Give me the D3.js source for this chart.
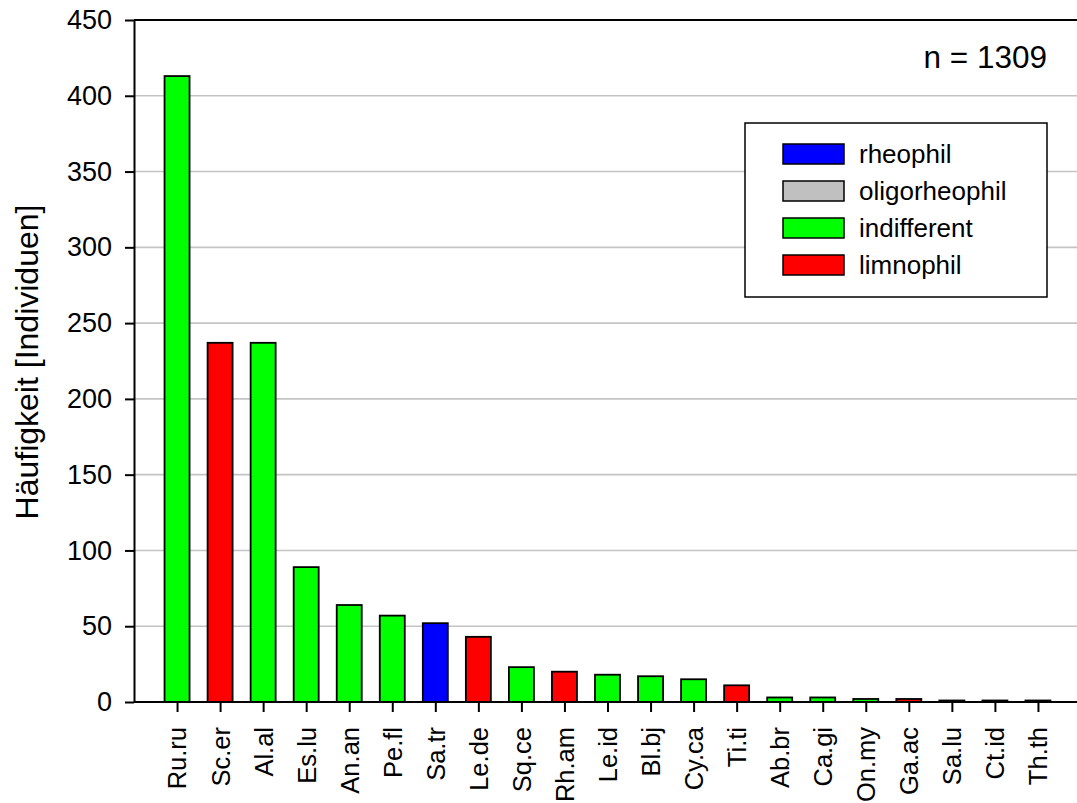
<!DOCTYPE html>
<html><head><meta charset="utf-8">
<script src="https://cdn.jsdelivr.net/npm/d3@7"></script>
<style>body{margin:0;background:#fff}svg{display:block;font-family:Arial,"Liberation Sans",sans-serif}</style>
</head><body>
<svg id="c" width="1077" height="803"></svg>
<script>
const categories = ["Ru.ru","Sc.er","Al.al","Es.lu","An.an","Pe.fl","Sa.tr","Le.de","Sq.ce","Rh.am","Le.id","Bl.bj","Cy.ca","Ti.ti","Ab.br","Ca.gi","On.my","Ga.ac","Sa.lu","Ct.id","Th.th"];
const values = [413,237,237,89,64,57,52,43,23,20,18,17,15,11,3,3,2,2,1,1,1];
const groups = ["indifferent","limnophil","indifferent","indifferent","indifferent","indifferent","rheophil","limnophil","indifferent","limnophil","indifferent","indifferent","indifferent","limnophil","indifferent","indifferent","indifferent","limnophil","indifferent","indifferent","rheophil"];
const legendLabels = ["rheophil","oligorheophil","indifferent","limnophil"];
const legendColors = ["#0000ff","#c0c0c0","#00ff00","#ff0000"];
const yTicks = [0,50,100,150,200,250,300,350,400,450];
const yTitle = "Häufigkeit [Individuen]";
const nLabel = "n = 1309";

const svg = d3.select("#c");
const mLeft = 134, mTop = 20, mBottom = 702, mRight = 1081;
const x = d3.scalePoint().domain(categories).range([mLeft, mRight]).padding(1);
const y = d3.scaleLinear().domain([0,450]).range([mBottom, mTop]);
const color = d3.scaleOrdinal().domain(legendLabels).range(legendColors);
const bw = 25;
const FF = "Arial, 'Liberation Sans', sans-serif";

// gridlines
svg.append("g").selectAll("line").data(yTicks.filter(t => t > 0 && t < 450)).join("line")
  .attr("x1", mLeft).attr("x2", 1077).attr("y1", d => y(d)).attr("y2", d => y(d))
  .attr("stroke", "#c4c4c4").attr("stroke-width", 1.6);
// top frame line
svg.append("line").attr("x1", mLeft).attr("x2", 1077).attr("y1", y(450)).attr("y2", y(450))
  .attr("stroke", "#000").attr("stroke-width", 2);

// y axis
const ya = svg.append("g").attr("transform", `translate(${mLeft},0)`)
  .call(d3.axisLeft(y).tickValues(yTicks).tickSize(9).tickPadding(13).tickSizeOuter(0));
ya.select(".domain").attr("stroke-width", 2);
ya.selectAll(".tick line").attr("stroke-width", 2);
ya.selectAll("text").attr("font-size", 27).attr("fill", "#000").attr("font-family", FF);

// bars
svg.append("g").selectAll("rect").data(categories).join("rect")
  .attr("x", d => x(d) - bw/2).attr("width", bw)
  .attr("y", (d,i) => y(values[i])).attr("height", (d,i) => y(0) - y(values[i]))
  .attr("fill", (d,i) => color(groups[i])).attr("stroke", "#000").attr("stroke-width", 1.8);

// x axis
const xa = svg.append("g").attr("transform", `translate(0,${mBottom})`)
  .call(d3.axisBottom(x).tickSize(10).tickSizeOuter(0));
xa.select(".domain").attr("d", `M${mLeft},0H1077`).attr("stroke-width", 2);
xa.selectAll(".tick line").attr("stroke-width", 2);
xa.selectAll("text").attr("font-size", 25.5).attr("fill", "#000")
  .attr("font-family", FF)
  .attr("transform", "rotate(-90)").attr("text-anchor", "end")
  .attr("x", -25).attr("y", 0).attr("dy", "0.35em");

// y title
svg.append("text").attr("transform", "translate(38,362) rotate(-90)")
  .attr("text-anchor", "middle").attr("font-size", 32).attr("font-family", FF).text(yTitle);

// n label
svg.append("text").attr("x", 1047).attr("y", 68).attr("text-anchor", "end")
  .attr("font-size", 31.5).attr("font-family", FF).text(nLabel);

// legend
const lg = svg.append("g");
lg.append("rect").attr("x", 745).attr("y", 123).attr("width", 302).attr("height", 174)
  .attr("fill", "#fff").attr("stroke", "#000").attr("stroke-width", 1.5);
const items = lg.selectAll("g.it").data(legendLabels).join("g").attr("class","it")
  .attr("transform", (d,i) => `translate(0,${154 + i*37})`);
items.append("rect").attr("x", 783).attr("y", -10).attr("width", 61).attr("height", 20)
  .attr("fill", d => color(d)).attr("stroke", "#000").attr("stroke-width", 1.5);
items.append("text").attr("x", 859).attr("y", 0).attr("dy", "0.35em").attr("font-size", 26)
  .attr("font-family", FF).text(d => d);
</script>
</body></html>
